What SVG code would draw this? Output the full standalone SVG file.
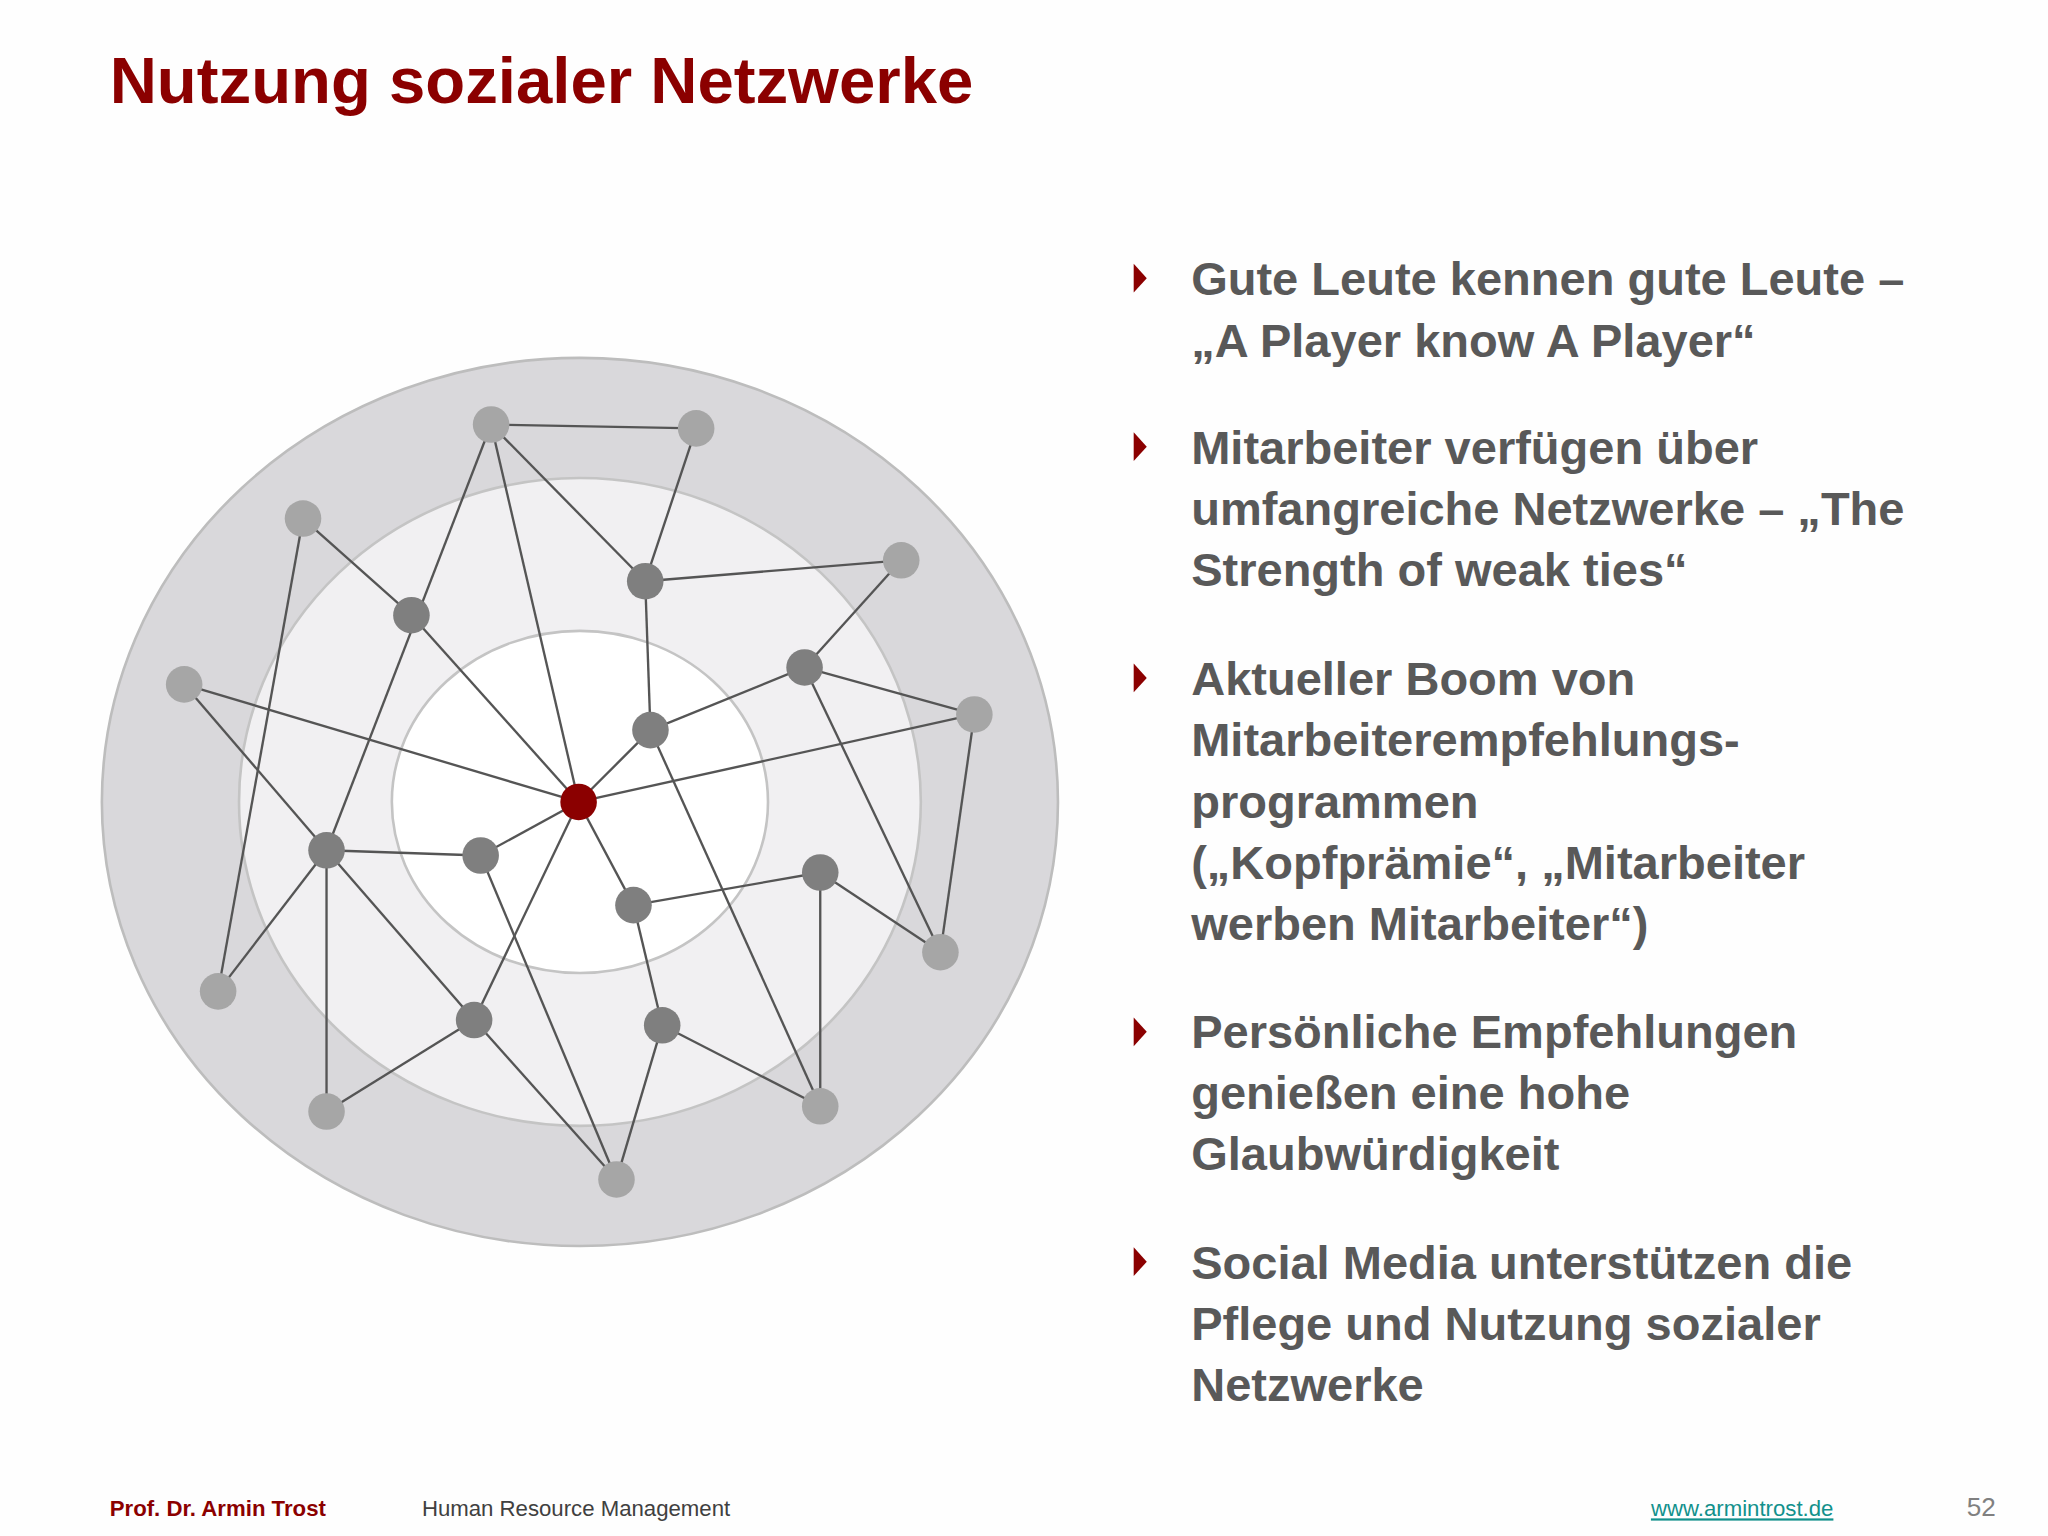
<svg xmlns="http://www.w3.org/2000/svg" width="2048" height="1536" viewBox="0 0 2048 1536">
<style>
.e line{stroke:#555;stroke-width:1.8}
.l{fill:#a6a6a6}.d{fill:#7f7f7f}.r{fill:#8b0000}
.b{font-family:"Liberation Sans",Arial,sans-serif;font-weight:bold;font-size:36px;fill:#595959}
.t{fill:#8b0000}
</style>
<rect width="2048" height="1536" fill="#fefefe"/>
<g transform="scale(1.30612)">
<text x="84" y="79" font-family="Liberation Sans,Arial,sans-serif" font-weight="bold" font-size="50" fill="#8b0000">Nutzung sozialer Netzwerke</text>
<g id="rings">
<ellipse cx="444" cy="614" rx="366" ry="340" fill="#d9d8db" stroke="#bdbdbd" stroke-width="2"/>
<ellipse cx="444" cy="614" rx="261" ry="248" fill="#f1f0f2" stroke="#c4c4c4" stroke-width="2"/>
<ellipse cx="444" cy="614" rx="144" ry="131" fill="#ffffff" stroke="#c4c4c4" stroke-width="2"/>
</g>
<g id="connectors" class="e">
<line x1="376" y1="325" x2="533" y2="328"/><line x1="376" y1="325" x2="494" y2="445"/><line x1="376" y1="325" x2="443" y2="614"/><line x1="376" y1="325" x2="250" y2="651"/>
<line x1="533" y1="328" x2="494" y2="445"/><line x1="232" y1="397" x2="315" y2="471"/><line x1="315" y1="471" x2="443" y2="614"/><line x1="232" y1="397" x2="167" y2="759"/>
<line x1="494" y1="445" x2="690" y2="429"/><line x1="494" y1="445" x2="498" y2="559"/><line x1="690" y1="429" x2="616" y2="511"/><line x1="616" y1="511" x2="498" y2="559"/>
<line x1="616" y1="511" x2="746" y2="547"/><line x1="616" y1="511" x2="720" y2="729"/><line x1="746" y1="547" x2="443" y2="614"/><line x1="746" y1="547" x2="720" y2="729"/>
<line x1="141" y1="524" x2="443" y2="614"/><line x1="141" y1="524" x2="250" y2="651"/><line x1="498" y1="559" x2="443" y2="614"/><line x1="498" y1="559" x2="628" y2="847"/>
<line x1="443" y1="614" x2="368" y2="655"/><line x1="443" y1="614" x2="363" y2="781"/><line x1="443" y1="614" x2="485" y2="693"/><line x1="250" y1="651" x2="368" y2="655"/>
<line x1="250" y1="651" x2="167" y2="759"/><line x1="250" y1="651" x2="363" y2="781"/><line x1="250" y1="651" x2="250" y2="851"/><line x1="368" y1="655" x2="472" y2="903"/>
<line x1="363" y1="781" x2="472" y2="903"/><line x1="363" y1="781" x2="250" y2="851"/><line x1="485" y1="693" x2="628" y2="668"/><line x1="485" y1="693" x2="507" y2="785"/>
<line x1="628" y1="668" x2="628" y2="847"/><line x1="628" y1="668" x2="720" y2="729"/><line x1="507" y1="785" x2="628" y2="847"/><line x1="507" y1="785" x2="472" y2="903"/>
</g>
<g id="nodes">
<circle id="n1" class="l" cx="376" cy="325" r="14"/><circle id="n2" class="l" cx="533" cy="328" r="14"/><circle id="n3" class="l" cx="232" cy="397" r="14"/>
<circle id="n4" class="d" cx="315" cy="471" r="14"/><circle id="n5" class="d" cx="494" cy="445" r="14"/><circle id="n6" class="l" cx="690" cy="429" r="14"/>
<circle id="n7" class="l" cx="141" cy="524" r="14"/><circle id="n8" class="d" cx="616" cy="511" r="14"/><circle id="n9" class="l" cx="746" cy="547" r="14"/>
<circle id="n10" class="d" cx="498" cy="559" r="14"/><circle id="n11" class="r" cx="443" cy="614" r="14"/><circle id="n12" class="d" cx="250" cy="651" r="14"/>
<circle id="n13" class="d" cx="368" cy="655" r="14"/><circle id="n14" class="d" cx="628" cy="668" r="14"/><circle id="n15" class="d" cx="485" cy="693" r="14"/>
<circle id="n16" class="l" cx="720" cy="729" r="14"/><circle id="n17" class="l" cx="167" cy="759" r="14"/><circle id="n18" class="d" cx="363" cy="781" r="14"/>
<circle id="n19" class="d" cx="507" cy="785" r="14"/><circle id="n20" class="l" cx="628" cy="847" r="14"/><circle id="n21" class="l" cx="250" cy="851" r="14"/>
<circle id="n22" class="l" cx="472" cy="903" r="14"/>
</g>
<g id="bullets">
<g class="t"><path d="M868 202l10 11l-10 11z"/><path d="M868 331l10 11l-10 11z"/><path d="M868 508l10 11l-10 11z"/><path d="M868 779l10 11l-10 11z"/><path d="M868 955l10 11l-10 11z"/></g>
<text class="b" x="912" y="226">Gute Leute kennen gute Leute –</text>
<text class="b" x="912" y="273">„A Player know A Player“</text>
<text class="b" x="912" y="355">Mitarbeiter verfügen über</text>
<text class="b" x="912" y="402">umfangreiche Netzwerke – „The</text>
<text class="b" x="912" y="449">Strength of weak ties“</text>
<text class="b" x="912" y="532">Aktueller Boom von</text>
<text class="b" x="912" y="579">Mitarbeiterempfehlungs-</text>
<text class="b" x="912" y="626">programmen</text>
<text class="b" x="912" y="673">(„Kopfprämie“, „Mitarbeiter</text>
<text class="b" x="912" y="720">werben Mitarbeiter“)</text>
<text class="b" x="912" y="802">Persönliche Empfehlungen</text>
<text class="b" x="912" y="849">genießen eine hohe</text>
<text class="b" x="912" y="896">Glaubwürdigkeit</text>
<text class="b" x="912" y="979">Social Media unterstützen die</text>
<text class="b" x="912" y="1026">Pflege und Nutzung sozialer</text>
<text class="b" x="912" y="1073">Netzwerke</text>
</g>
<g id="footer" font-family="Liberation Sans,Arial,sans-serif" font-size="17">
<text x="84" y="1161" font-weight="bold" fill="#8b0000">Prof. Dr. Armin Trost</text>
<text x="323" y="1161" fill="#404040">Human Resource Management</text>
<text x="1264" y="1161" fill="#12918c" text-decoration="underline">www.armintrost.de</text>
<text x="1528" y="1161" fill="#808080" font-size="20" text-anchor="end">52</text>
</g>
</g>
</svg>
